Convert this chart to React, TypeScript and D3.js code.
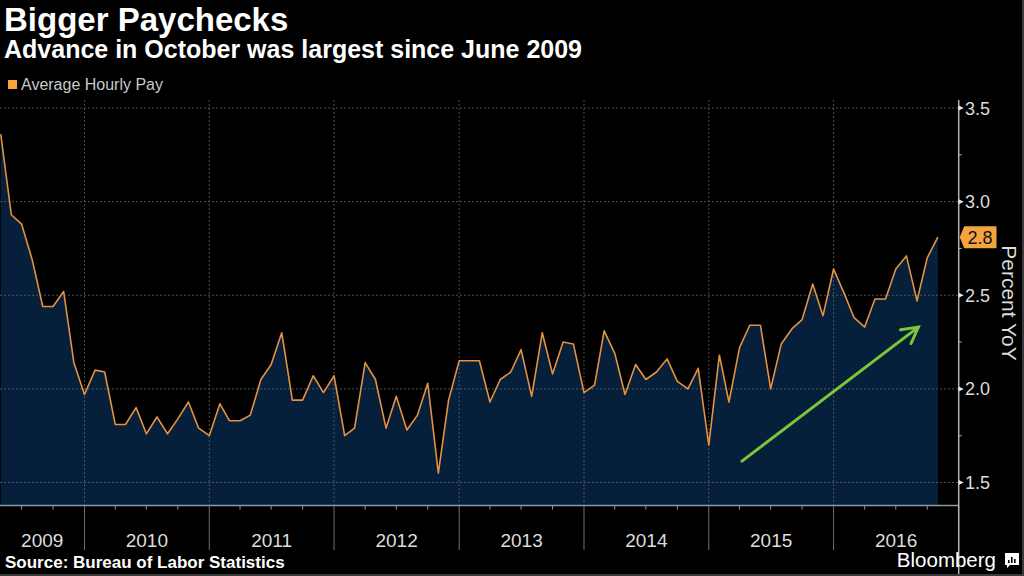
import React from "react";
import * as d3 from "d3";

// Average hourly earnings, % YoY, monthly Apr 2009 .. Oct 2016
const values: number[] = [
  3.36, 2.93, 2.88, 2.69, 2.44, 2.44, 2.52, 2.14, 1.97, 2.10,
  2.09, 1.81, 1.81, 1.90, 1.76, 1.85, 1.76, 1.84, 1.93, 1.79,
  1.75, 1.92, 1.83, 1.83, 1.86, 2.05, 2.13, 2.30, 1.94, 1.94,
  2.07, 1.98, 2.07, 1.75, 1.79, 2.14, 2.05, 1.79, 1.96, 1.78,
  1.86, 2.03, 1.55, 1.94, 2.15, 2.15, 2.15, 1.93, 2.05, 2.09,
  2.21, 1.96, 2.30, 2.08, 2.25, 2.24, 1.98, 2.02, 2.31, 2.19,
  1.97, 2.13, 2.05, 2.09, 2.16, 2.04, 2.00, 2.11, 1.70, 2.18,
  1.93, 2.22, 2.34, 2.34, 2.00, 2.24, 2.32, 2.37, 2.56, 2.39,
  2.64, 2.51, 2.38, 2.33, 2.48, 2.48, 2.64, 2.71, 2.47, 2.70,
  2.81,
];
const firstMonth = new Date(2009, 3, 1); // April 2009
const years: number[] = [2009, 2010, 2011, 2012, 2013, 2014, 2015, 2016];
const yTicks: number[] = [1.5, 2.0, 2.5, 3.0, 3.5];
const yMinorTicks: number[] = [1.75, 2.25, 2.75, 3.25];
const lastLabel = "2.8";
const title = "Bigger Paychecks";
const subtitle = "Advance in October was largest since June 2009";
const legendLabel = "Average Hourly Pay";
const source = "Source: Bureau of Labor Statistics";
const axisTitle = "Percent YoY";
// trend arrow annotation in data space
const arrowFrom = { date: new Date(2015, 3, 8), value: 1.614 };
const arrowTo = { date: new Date(2016, 8, 5), value: 2.33 };

const W = 1024;
const H = 576;
const plotTop = 100;
const plotBottom = 505.5;
const axisX = 958.7;
const FONT = "'Liberation Sans', Arial, sans-serif";

export default function App() {
  const x = d3
    .scaleTime()
    .domain([new Date(2009, 0, 1), new Date(2017, 0, 1)])
    .range([-40.3, axisX]);
  const y = d3.scaleLinear().domain([1.5, 3.5]).range([482.5, 108]);

  // month-end plotting (start of the following month)
  const data = values.map((v, i) => ({
    date: d3.timeMonth.offset(firstMonth, i + 1),
    value: v,
  }));

  const area = d3
    .area<{ date: Date; value: number }>()
    .x((d) => x(d.date))
    .y0(plotBottom)
    .y1((d) => y(d.value));
  const line = d3
    .line<{ date: Date; value: number }>()
    .x((d) => x(d.date))
    .y((d) => y(d.value));

  const yearStarts = years.map((yr) => new Date(yr, 0, 1)).concat([new Date(2017, 0, 1)]);
  const quarterTicks = d3
    .timeMonth.every(3)!
    .range(new Date(2009, 0, 1), new Date(2017, 0, 1))
    .filter((d) => d.getMonth() !== 0 && x(d) > 0);

  const last = data[data.length - 1];
  const ly = y(last.value);

  const ax1 = x(arrowFrom.date), ay1 = y(arrowFrom.value);
  const ax2 = x(arrowTo.date), ay2 = y(arrowTo.value);
  const ang = Math.atan2(ay2 - ay1, ax2 - ax1);
  const hl = 18, ha = 0.5;
  const h1 = [ax2 - hl * Math.cos(ang - ha), ay2 - hl * Math.sin(ang - ha)];
  const h2 = [ax2 - hl * Math.cos(ang + ha), ay2 - hl * Math.sin(ang + ha)];

  return (
    <svg
      width={W}
      height={H}
      style={{ position: "fixed", left: 0, top: 0, background: "#000" }}
      fontFamily={FONT}
    >
      <rect x={0} y={0} width={W} height={H} fill="#000" />
      <defs>
        <clipPath id="plotclip">
          <rect x={0} y={0} width={axisX} height={H} />
        </clipPath>
      </defs>

      {/* Titles */}
      <text x={4} y={31} fill="#fff" fontSize={33} fontWeight="bold">{title}</text>
      <text x={4} y={58} fill="#fff" fontSize={25} fontWeight="bold">{subtitle}</text>

      {/* Legend */}
      <rect x={8} y={80} width={9} height={9} fill="#f5a340" />
      <text x={21} y={90} fill="#c8c8c8" fontSize={16}>{legendLabel}</text>

      <g clipPath="url(#plotclip)">
        {/* area */}
        <path d={area(data) || ""} fill="#061f3a" />
        {/* horizontal grid */}
        {yTicks.map((t) => (
          <line key={"h" + t} x1={0} x2={axisX} y1={y(t)} y2={y(t)}
            stroke="#5c6670" strokeWidth={1} strokeDasharray="2,2" opacity={0.8} />
        ))}
        {/* vertical grid */}
        {yearStarts.slice(1, -1).map((d, i) => (
          <line key={"v" + i} x1={x(d)} x2={x(d)} y1={plotTop} y2={plotBottom}
            stroke="#5c6670" strokeWidth={1} strokeDasharray="2,2" opacity={0.8} />
        ))}
        {/* line */}
        <path d={line(data) || ""} fill="none" stroke="#e3923f" strokeWidth={1.6} strokeLinejoin="round" />
      </g>

      {/* trend arrow */}
      <g stroke="#7cc63a" strokeWidth={3} strokeLinecap="round" fill="none">
        <line x1={ax1} y1={ay1} x2={ax2} y2={ay2} />
        <polyline points={`${h1[0]},${h1[1]} ${ax2},${ay2} ${h2[0]},${h2[1]}`} strokeLinejoin="miter" />
      </g>

      {/* bottom axis */}
      <line x1={0} x2={axisX} y1={plotBottom} y2={plotBottom} stroke="#8c98a4" strokeWidth={1.5} />
      {quarterTicks.map((d, i) => (
        <line key={"q" + i} x1={x(d)} x2={x(d)} y1={plotBottom} y2={plotBottom + 4} stroke="#8c98a4" strokeWidth={1} />
      ))}
      {yearStarts.slice(1).map((d, i) => (
        <line key={"ys" + i} x1={x(d)} x2={x(d)} y1={plotBottom} y2={550} stroke="#6e6e6e" strokeWidth={1} />
      ))}
      {years.map((yr, i) => {
        const a = Math.max(0, x(yearStarts[i]));
        const b = x(yearStarts[i + 1]);
        return (
          <text key={"yl" + yr} x={(a + b) / 2} y={547} fill="#dcdcdc" fontSize={19} textAnchor="middle">
            {yr}
          </text>
        );
      })}

      {/* right axis */}
      <line x1={axisX} x2={axisX} y1={plotTop} y2={H} stroke="#b4b4b4" strokeWidth={1.5} />
      {yTicks.map((t) => (
        <g key={"rt" + t}>
          <path d={`M${axisX},${y(t) - 2.5} L${axisX + 5},${y(t)} L${axisX},${y(t) + 2.5} Z`} fill="#e8e8e8" />
          <text x={965} y={y(t) + 6.5} fill="#dcdcdc" fontSize={18}>{t.toFixed(1)}</text>
        </g>
      ))}
      {yMinorTicks.map((t) => (
        <line key={"mt" + t} x1={axisX} x2={axisX + 3} y1={y(t)} y2={y(t)} stroke="#b4b4b4" strokeWidth={1} />
      ))}

      {/* last value label */}
      <path
        d={`M${axisX + 1},${ly} L${axisX + 5.5},${ly - 11} L${996.5},${ly - 11} L${996.5},${ly + 11} L${axisX + 5.5},${ly + 11} Z`}
        fill="#f5a340"
      />
      <text x={980} y={ly + 6.5} fill="#111" fontSize={18} textAnchor="middle">{lastLabel}</text>

      <text transform={`translate(1002,303) rotate(90)`} fill="#dcdcdc" fontSize={21} textAnchor="middle">
        {axisTitle}
      </text>

      {/* footer */}
      <text x={5} y={568} fill="#fff" fontSize={17} fontWeight="bold">{source}</text>
      <text x={996} y={567} fill="#fff" fontSize={20.5} textAnchor="end">Bloomberg</text>
      <g>
        <path d="M1005,553 h14 v12 h-9 l-3,3 v-3 h-2 Z" fill="#fff" />
        <rect x={1008} y={560} width={1.6} height={3} fill="#000" />
        <rect x={1011} y={557} width={1.6} height={6} fill="#000" />
        <rect x={1014} y={559} width={1.6} height={4} fill="#000" />
      </g>

      {/* frame edge */}
      <rect x={0} y={H - 2} width={W} height={2} fill="#3a3a3a" />
      <rect x={W - 2} y={0} width={2} height={H} fill="#3a3a3a" />
    </svg>
  );
}
